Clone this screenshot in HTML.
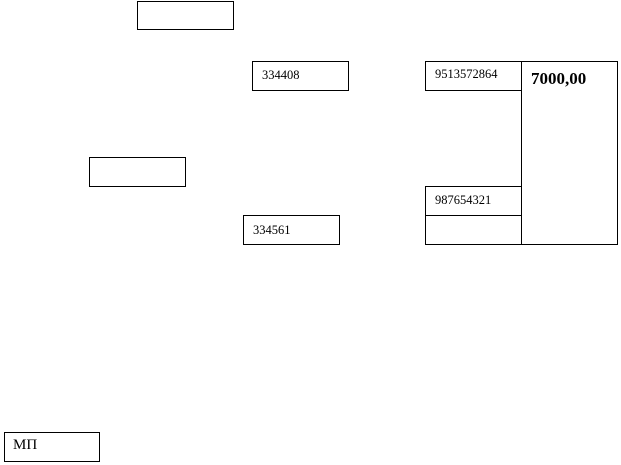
<!DOCTYPE html>
<html><head><meta charset="utf-8"><style>
html,body{margin:0;padding:0;background:#fff;width:621px;height:465px;overflow:hidden;position:relative}
.b{position:absolute;border:1px solid #000;box-sizing:border-box}
.t{position:absolute;font-family:"Liberation Serif",serif;font-size:12.5px;line-height:13px;white-space:nowrap}
</style></head><body>
<div class="b" style="left:137px;top:1px;width:97px;height:29px"></div>
<div class="b" style="left:252px;top:61px;width:97px;height:30px"></div>
<div class="t" style="left:262px;top:69px">334408</div>
<div class="b" style="left:89px;top:157px;width:97px;height:30px"></div>
<div class="b" style="left:243px;top:215px;width:97px;height:30px"></div>
<div class="t" style="left:253px;top:224px">334561</div>

<div class="b" style="left:425px;top:61px;width:97px;height:30px"></div>
<div class="b" style="left:521px;top:61px;width:97px;height:184px"></div>
<div class="b" style="left:425px;top:186px;width:97px;height:59px"></div>
<div class="b" style="left:425px;top:215px;width:97px;height:1px;border-width:1px 0 0 0"></div>
<div class="t" style="left:435px;top:68px">9513572864</div>
<div class="t" style="left:435px;top:194px">987654321</div>
<div class="t" style="left:531px;top:70px;font-size:17px;line-height:17px;font-weight:bold">7000,00</div>

<div class="b" style="left:4px;top:432px;width:96px;height:30px"></div>
<div class="t" style="left:13px;top:438px;font-size:15px;line-height:15px">МП</div>
</body></html>
